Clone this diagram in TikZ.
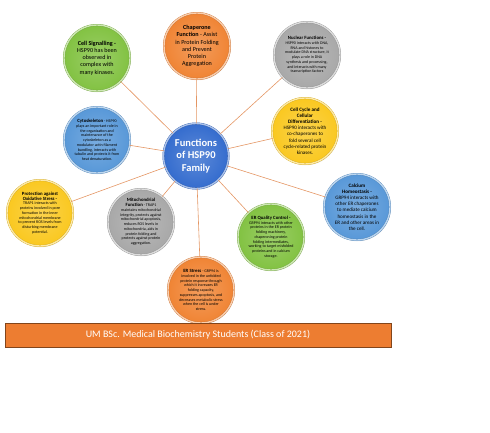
\documentclass[tikz,border=0pt]{standalone}
\usepackage{fontspec}
\setmainfont{Carlito}
\usetikzlibrary{shadows}

\definecolor{ballgreen}{RGB}{130,194,66}
\definecolor{ballorange}{RGB}{240,132,52}
\definecolor{ballgray}{RGB}{168,168,168}
\definecolor{ballyellow}{RGB}{250,200,32}
\definecolor{ballblue}{RGB}{88,152,216}
\definecolor{hubblue}{RGB}{52,108,206}
\definecolor{linkorange}{RGB}{228,150,100}
\definecolor{bannerorange}{RGB}{237,125,49}

\tikzset{
  ball/.style={circle, minimum size=66pt, inner sep=0pt,
    draw=#1!82!black, line width=0.3pt, double=#1!40!white, double distance=1.4pt,
    inner color=#1!80!white, outer color=#1,
    drop shadow={opacity=0.2, shadow xshift=0.8pt, shadow yshift=-1.2pt}},
  link/.style={draw=linkorange, line width=0.6pt},
  minitext/.style={font=\fontsize{4}{4.75}\selectfont, align=center},
  midtext/.style={font=\fontsize{5.1}{6.2}\selectfont, align=center},
  bigtext/.style={font=\fontsize{6.1}{7.2}\selectfont, align=center},
}

\begin{document}
\begin{tikzpicture}[x=1pt, y=-1pt]
  \useasboundingbox (0,0) rectangle (490,432);

  % hub
  \node[ball=hubblue, minimum size=65pt, text=white, align=center,
        font=\fontsize{10.5}{12.3}\selectfont\bfseries] (HSP) at (196,156)
        {Functions\\of HSP90\\Family};

  % outer circles
  \node[ball=ballgreen, label={[bigtext]center:{\textbf{Cell Signalling -}\\HSP90 has been\\observed in\\complex with\\many kinases.}}] (Signal) at (97,58) {};
  \node[ball=ballorange, label={[bigtext]center:{\textbf{Chaperone}\\\textbf{Function} - Assist\\in Protein Folding\\and Prevent\\Protein\\Aggregation}}] (Chaperone) at (197,46) {};
  \node[ball=ballgray, label={[minitext]center:{{\fontsize{4.8}{5}\selectfont\textbf{Nuclear Functions -}}\\HSP90 interacts with DNA,\\RNA and histones to\\modulate DNA structure, it\\plays a role in DNA\\synthesis and processing,\\and interacts with many\\transcription factors}}] (Nuclear) at (307,55) {};
  \node[ball=ballyellow, label={[midtext]center:{\textbf{Cell Cycle and}\\\textbf{Cellular}\\\textbf{Differentiation -}\\HSP90 interacts with\\co-chaperones to\\fold several cell\\cycle-related protein\\kinases.}}] (Cycle) at (305,131) {};
  \node[ball=ballblue, label={[midtext]center:{\textbf{Calcium}\\\textbf{Homeostasis -}\\GRP94 interacts with\\other ER chaperones\\to mediate calcium\\homeostasis in the\\ER and other areas in\\the cell.}}] (Calcium) at (357,207) {};
  \node[ball=ballblue, label={[minitext]center:{{\fontsize{4.8}{5}\selectfont\textbf{Cytoskeleton}} - HSP90\\plays an important role in\\the organization and\\maintenance of the\\cytoskeleton as a\\modulator actin filament\\bundling, interacts with\\tubulin and protects it from\\heat denaturation.}}] (Cyto) at (97,140) {};
  \node[ball=ballyellow, label={[minitext]center:{{\fontsize{4.8}{5.6}\selectfont\textbf{Protection against}}\\{\fontsize{4.8}{5.6}\selectfont\textbf{Oxidative Stress -}}\\TRAP1 interacts with\\proteins involved in pore\\formation in the inner\\mitochondrial membrane\\to prevent ROS levels from\\disturbing membrane\\potential.}}] (Oxid) at (40,213) {};
  \node[ball=ballgray, label={[minitext]center:{{\fontsize{4.8}{5.6}\selectfont\textbf{Mitochondrial}}\\{\fontsize{4.8}{5.6}\selectfont\textbf{Function}} - TRAP1\\maintains mitochondrial\\integrity, protects against\\mitochondrial apoptosis,\\reduces ROS levels in\\mitochondria, aids in\\protein folding and\\protects against protein\\aggregation.}}] (Mito) at (141,222) {};
  \node[ball=ballgreen, label={[minitext]center:{{\fontsize{4.8}{5}\selectfont\textbf{ER Quality Control -}}\\GRP94 interacts with other\\proteins in the ER protein\\folding machinery,\\chaperoning protein\\folding intermediates,\\working to target misfolded\\proteins and in calcium\\storage.}}] (ERQC) at (271,237) {};
  \node[ball=ballorange, label={[minitext]center:{{\fontsize{4.8}{5}\selectfont\textbf{ER Stress}} - GRP94 is\\involved in the unfolded\\protein response through\\which it increases ER\\folding capacity,\\suppresses apoptosis, and\\decreases metabolic stress\\when the cell is under\\stress.}}] (ERStress) at (201,290) {};

  % spokes
  \foreach \f in {Signal,Chaperone,Nuclear,Cycle,Calcium,Cyto,Oxid,Mito,ERQC,ERStress}
    \draw[link] (HSP) edge (\f);

  % banner
  \node[draw=bannerorange!55!black, line width=0.6pt, fill=bannerorange, text=white,
        minimum width=386pt, minimum height=24pt, font=\fontsize{10}{12}\selectfont]
        (Class) at (198,335) {UM BSc. Medical Biochemistry Students (Class of 2021)};
\end{tikzpicture}
\end{document}
